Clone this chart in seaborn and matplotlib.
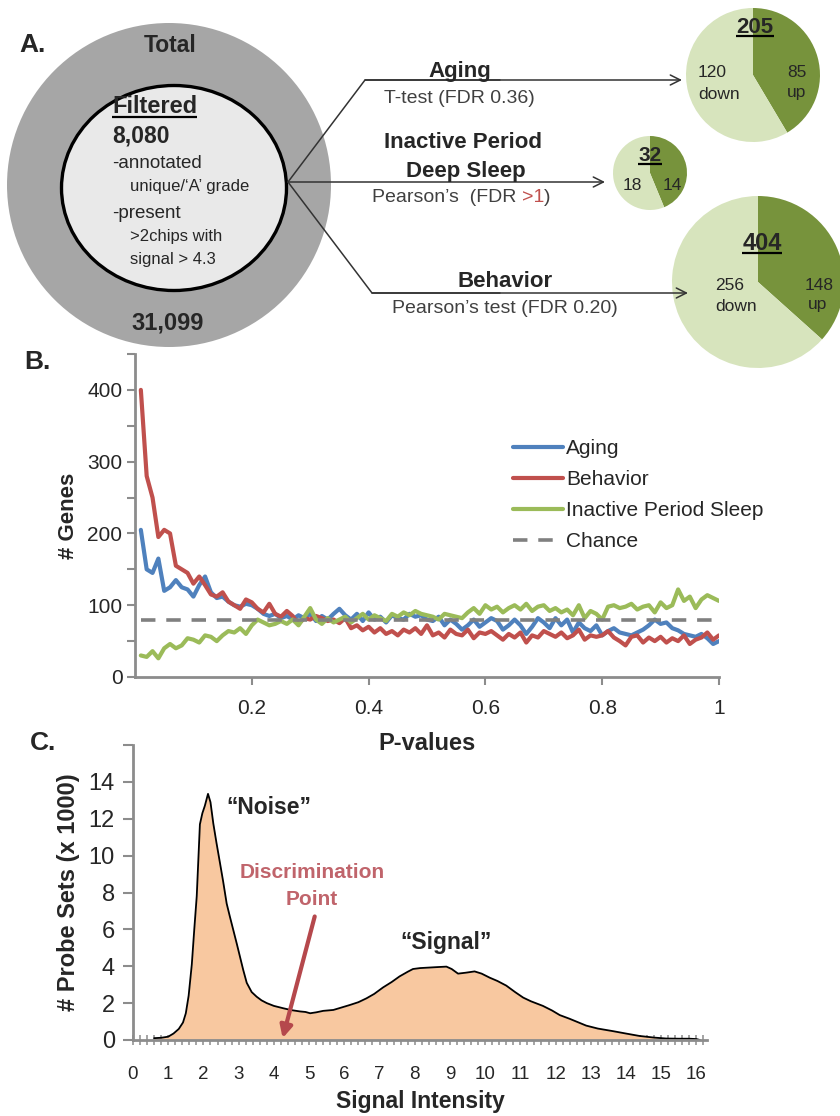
import numpy as np
import pandas as pd
import matplotlib
matplotlib.use("Agg")
import matplotlib.pyplot as plt
from matplotlib.patches import Circle, Ellipse
from matplotlib.lines import Line2D
from matplotlib.ticker import MultipleLocator, FixedLocator
import seaborn as sns

sns.set_style("white")
plt.rcParams["font.family"] = ["Liberation Sans", "DejaVu Sans"]

W, H = 840, 1116

# ---------------- panel A values
pie_totals = ["205", "32", "404"]
pie_down = [120, 18, 256]
pie_up = [85, 14, 148]
light_green, dark_green = "#D7E4BD", "#77933C"

# ---------------- panel B values (gene counts per p-value bin)
p_values = np.round(np.arange(1, 101) / 100, 2)
aging = [205, 150, 145, 165, 120, 125, 135, 125, 122, 112,
         128, 140, 118, 110, 112, 105, 100, 98, 102, 100,
         95, 88, 85, 88, 82, 85, 80, 86, 82, 88,
         78, 85, 80, 88, 95, 86, 80, 88, 78, 90,
         80, 84, 76, 86, 82, 80, 88, 84, 86, 80,
         78, 84, 72, 80, 74, 66, 72, 80, 70, 76,
         82, 78, 66, 72, 80, 72, 60, 70, 82, 76,
         68, 82, 72, 80, 62, 76, 68, 64, 72, 58,
         64, 68, 62, 60, 58, 62, 66, 72, 80, 74,
         76, 68, 65, 60, 58, 56, 60, 54, 46, 50]
behavior = [400, 280, 250, 195, 205, 200, 155, 150, 145, 130,
            140, 128, 115, 112, 118, 105, 100, 95, 108, 104,
            95, 90, 102, 88, 84, 92, 85, 74, 82, 80,
            85, 82, 78, 80, 75, 82, 68, 72, 65, 70,
            62, 68, 60, 64, 58, 66, 62, 68, 60, 72,
            58, 62, 55, 66, 60, 58, 66, 54, 62, 60,
            64, 58, 52, 60, 55, 62, 48, 58, 55, 64,
            60, 56, 62, 54, 58, 66, 52, 58, 56, 58,
            64, 55, 50, 44, 56, 58, 48, 55, 50, 56,
            48, 54, 50, 58, 46, 52, 55, 62, 52, 58]
inactive_sleep = [30, 28, 36, 26, 40, 46, 40, 44, 54, 52,
                  48, 58, 56, 50, 58, 64, 62, 68, 60, 72,
                  80, 76, 72, 74, 78, 74, 80, 72, 84, 96,
                  80, 74, 82, 76, 80, 84, 76, 82, 88, 80,
                  86, 82, 78, 88, 84, 90, 86, 92, 88, 86,
                  84, 80, 88, 86, 84, 82, 90, 96, 88, 100,
                  94, 98, 90, 96, 100, 94, 102, 92, 98, 100,
                  92, 96, 90, 94, 86, 100, 82, 92, 88, 80,
                  98, 100, 96, 98, 102, 94, 98, 100, 90, 104,
                  96, 100, 122, 106, 112, 96, 108, 114, 110, 106]
chance = [80] * 100
series_names = ["Aging", "Behavior", "Inactive Period Sleep"]
series_colors = ["#4F81BD", "#C0504D", "#9BBB59"]

# ---------------- panel C values (probe-set histogram, x1000)
sig_x = [0.6, 0.8, 1.0, 1.15, 1.3, 1.42, 1.5, 1.58, 1.67, 1.74,
         1.81, 1.9, 1.97, 2.04, 2.13, 2.2, 2.28, 2.37, 2.47, 2.56,
         2.66, 2.75, 2.85, 2.95, 3.04, 3.13, 3.23, 3.37, 3.51, 3.65,
         3.8, 4.0, 4.27, 4.5, 4.74, 4.9, 5.03, 5.2, 5.4, 5.69,
         5.9, 6.16, 6.4, 6.63, 6.85, 7.1, 7.35, 7.57, 7.8, 7.95,
         8.15, 8.33, 8.6, 8.9, 9.05, 9.23, 9.45, 9.7, 9.9, 10.13,
         10.35, 10.6, 10.85, 11.08, 11.3, 11.64, 11.9, 12.12, 12.4, 12.87,
         13.2, 13.63, 14.0, 14.38, 14.8, 15.14, 15.5, 15.8, 16.0, 16.1]
sig_y = [0.1, 0.12, 0.18, 0.35, 0.6, 0.95, 1.45, 2.4, 4.1, 6.0,
         7.8, 11.7, 12.3, 12.7, 13.35, 12.9, 11.75, 10.7, 9.6, 8.6,
         7.4, 6.7, 5.95, 5.2, 4.5, 3.8, 3.1, 2.6, 2.35, 2.15,
         2.0, 1.85, 1.72, 1.62, 1.55, 1.52, 1.45, 1.5, 1.58, 1.63,
         1.75, 1.9, 2.05, 2.26, 2.5, 2.85, 3.15, 3.45, 3.7, 3.85,
         3.9, 3.92, 3.95, 3.98, 3.85, 3.6, 3.65, 3.72, 3.6, 3.38,
         3.2, 2.95, 2.6, 2.3, 2.1, 1.85, 1.6, 1.35, 1.15, 0.78,
         0.62, 0.48, 0.35, 0.22, 0.13, 0.08, 0.07, 0.07, 0.05, 0.0]
discrimination_point = 4.25

TXT = "#262626"
AX_GRAY = "#8C8C8C"

fig = plt.figure(figsize=(W / 100, H / 100), dpi=100)
renderer = fig.canvas.get_renderer()

# =============== panel A (pixel-like coordinates, y flipped) ===============
AH = 370
axA = fig.add_axes([0, 1 - AH / H, 1, AH / H], zorder=3)
axA.set_axis_off()


def fix_limits():
    axA.set_xlim(0, W)
    axA.set_ylim(0, AH)
    axA.set_aspect("equal")


fix_limits()


def Y(py):
    return AH - py


def underline(t, py, lw=1.6):
    bb = t.get_window_extent(renderer).transformed(axA.transData.inverted())
    axA.plot([bb.x0, bb.x1], [Y(py), Y(py)], color="black", lw=lw, solid_capstyle="butt")


# pies first (pie resets the limits)
pie_centers = [(753, Y(75)), (650, Y(173)), (758, Y(282))]
pie_radius = [67, 37, 86]
for i in range(3):
    axA.pie([pie_up[i], pie_down[i]], colors=[dark_green, light_green], startangle=90,
            counterclock=False, center=pie_centers[i], radius=pie_radius[i],
            wedgeprops=dict(linewidth=0))
fix_limits()

axA.add_patch(Circle((169, Y(185)), 162, color="#A6A6A6", lw=0))
axA.add_patch(Ellipse((174, Y(188)), 225, 205, fc="#E9E9E9", ec="black", lw=2.4))

axA.text(170, Y(52), "Total", ha="center", va="baseline", fontsize=16.5, weight="bold", color=TXT)
t = axA.text(112, Y(113), "Filtered", ha="left", va="baseline", fontsize=17, weight="bold", color=TXT)
underline(t, 117)
axA.text(112, Y(142), "8,080", ha="left", va="baseline", fontsize=16.5, weight="bold", color=TXT)
axA.text(112, Y(168), "-annotated", ha="left", va="baseline", fontsize=13.5, color=TXT)
axA.text(130, Y(191), "unique/\u2018A\u2019 grade", ha="left", va="baseline", fontsize=12, color=TXT)
axA.text(112, Y(218), "-present", ha="left", va="baseline", fontsize=13.5, color=TXT)
axA.text(130, Y(241), ">2chips with", ha="left", va="baseline", fontsize=12, color=TXT)
axA.text(130, Y(264), "signal > 4.3", ha="left", va="baseline", fontsize=12, color=TXT)
axA.text(168, Y(329), "31,099", ha="center", va="baseline", fontsize=17, weight="bold", color=TXT)

# branches
apex = (288, Y(182))
arrow_kw = dict(arrowstyle="->", color="#333333", lw=1.1, mutation_scale=18, shrinkA=0, shrinkB=0)
axA.plot([apex[0], 365, 500], [apex[1], Y(80), Y(80)], color="#333333", lw=1.1)
axA.annotate("", xy=(682, Y(80)), xytext=(365, Y(80)), arrowprops=arrow_kw)
axA.annotate("", xy=(605, Y(182)), xytext=apex, arrowprops=arrow_kw)
axA.plot([apex[0], 372, 500], [apex[1], Y(293), Y(293)], color="#333333", lw=1.1)
axA.annotate("", xy=(688, Y(293)), xytext=(372, Y(293)), arrowprops=arrow_kw)

axA.text(460, Y(77), "Aging", ha="center", va="baseline", fontsize=16, weight="bold", color=TXT)
axA.text(459, Y(103), "T-test (FDR 0.36)", ha="center", va="baseline", fontsize=14, color="#404040")
axA.text(463, Y(148), "Inactive Period", ha="center", va="baseline", fontsize=16, weight="bold", color=TXT)
axA.text(466, Y(177), "Deep Sleep", ha="center", va="baseline", fontsize=16, weight="bold", color=TXT)
t1 = axA.text(372, Y(202), "Pearson\u2019s  (FDR ", ha="left", va="baseline", fontsize=14, color="#404040")
x1 = t1.get_window_extent(renderer).transformed(axA.transData.inverted()).x1
t2 = axA.text(x1, Y(202), ">1", ha="left", va="baseline", fontsize=14, color="#C0504D")
x2 = t2.get_window_extent(renderer).transformed(axA.transData.inverted()).x1
axA.text(x2, Y(202), ")", ha="left", va="baseline", fontsize=14, color="#404040")
axA.text(505, Y(287), "Behavior", ha="center", va="baseline", fontsize=16, weight="bold", color=TXT)
axA.text(505, Y(313), "Pearson\u2019s test (FDR 0.20)", ha="center", va="baseline", fontsize=14, color="#404040")

t = axA.text(755, Y(33), pie_totals[0], ha="center", va="baseline", fontsize=16, weight="bold", color=TXT)
underline(t, 36)
axA.text(698, Y(77), str(pie_down[0]), ha="left", va="baseline", fontsize=12.5, color=TXT)
axA.text(698, Y(99), "down", ha="left", va="baseline", fontsize=12.5, color=TXT)
axA.text(797, Y(77), str(pie_up[0]), ha="center", va="baseline", fontsize=12.5, color=TXT)
axA.text(797, Y(97), "up", ha="center", va="baseline", fontsize=12.5, color=TXT)

t = axA.text(650, Y(161), pie_totals[1], ha="center", va="baseline", fontsize=15, weight="bold", color=TXT)
underline(t, 164)
axA.text(632, Y(190), str(pie_down[1]), ha="center", va="baseline", fontsize=12.5, color=TXT)
axA.text(672, Y(190), str(pie_up[1]), ha="center", va="baseline", fontsize=12.5, color=TXT)

t = axA.text(762, Y(250), pie_totals[2], ha="center", va="baseline", fontsize=17, weight="bold", color=TXT)
underline(t, 253)
axA.text(715, Y(290), str(pie_down[2]), ha="left", va="baseline", fontsize=12.5, color=TXT)
axA.text(715, Y(311), "down", ha="left", va="baseline", fontsize=12.5, color=TXT)
axA.text(819, Y(290), str(pie_up[2]), ha="center", va="baseline", fontsize=12.5, color=TXT)
axA.text(818, Y(309), "up", ha="center", va="baseline", fontsize=12.5, color=TXT)
fix_limits()

# =============== panel B ===============
axB = fig.add_axes([135 / W, 1 - 677 / H, (719 - 135) / W, (677 - 354) / H])
axB.patch.set_alpha(0)
df_b = pd.DataFrame({
    "p": np.tile(p_values, 3),
    "genes": aging + behavior + inactive_sleep,
    "series": np.repeat(series_names, 100),
})
sns.lineplot(data=df_b, x="p", y="genes", hue="series", hue_order=series_names,
             palette=series_colors, linewidth=3, ax=axB, legend=False)
sns.lineplot(x=p_values, y=chance, color="#808080", linewidth=2.6,
             linestyle=(0, (4, 3)), ax=axB)
axB.set_xlim(0, 1)
axB.set_ylim(0, 450)
axB.set_xticks([0.2, 0.4, 0.6, 0.8, 1.0])
axB.set_xticklabels(["0.2", "0.4", "0.6", "0.8", "1"])
axB.yaxis.set_major_locator(FixedLocator([0, 100, 200, 300, 400]))
axB.yaxis.set_minor_locator(FixedLocator([50, 150, 250, 350, 450]))
axB.set_xlabel("P-values", fontsize=17, weight="bold", color=TXT, labelpad=10)
axB.set_ylabel("# Genes", fontsize=16, weight="bold", color=TXT, labelpad=6)
axB.tick_params(axis="x", which="major", bottom=True, direction="out", length=6, width=1.5,
                color=AX_GRAY, labelsize=15, labelcolor=TXT, pad=10)
axB.tick_params(axis="y", which="both", left=True, direction="out", length=6, width=1.5,
                color=AX_GRAY, labelsize=15, labelcolor=TXT, pad=3)
for s in ["top", "right"]:
    axB.spines[s].set_visible(False)
for s in ["left", "bottom"]:
    axB.spines[s].set_color(AX_GRAY)
    axB.spines[s].set_linewidth(2)

handles = [Line2D([], [], color=c, lw=3) for c in series_colors]
handles.append(Line2D([], [], color="#808080", lw=2.6, linestyle=(0, (4, 3))))
axB.legend(handles, series_names + ["Chance"], loc="upper left",
           bbox_to_anchor=(513 / W, 1 - 439 / H), bbox_transform=fig.transFigure,
           frameon=False, fontsize=15, handlelength=2.4, handletextpad=0.15,
           labelspacing=0.58, borderpad=0, borderaxespad=0)

# =============== panel C ===============
axC = fig.add_axes([133 / W, 1 - 1040 / H, (707 - 133) / W, (1040 - 745) / H])
axC.patch.set_alpha(0)
axC.fill_between(sig_x, sig_y, 0, color="#F8C8A0", lw=0)
sns.lineplot(x=sig_x, y=sig_y, color="black", linewidth=1.3, ax=axC, sort=False)
axC.set_xlim(0, 16.3)
axC.set_ylim(0, 16)
axC.xaxis.set_major_locator(MultipleLocator(1))
axC.xaxis.set_minor_locator(MultipleLocator(0.2))
axC.set_yticks(range(0, 17, 2))
axC.set_yticklabels([str(v) for v in range(0, 15, 2)] + [""])
axC.set_xlabel("Signal Intensity", fontsize=16.5, weight="bold", color=TXT, labelpad=5)
axC.set_ylabel("# Probe Sets (x 1000)", fontsize=17, weight="bold", color=TXT, labelpad=6)
axC.tick_params(axis="x", which="both", bottom=True, direction="inout", length=7, width=1.1,
                color=AX_GRAY, labelsize=13.5, labelcolor=TXT, pad=15)
axC.tick_params(axis="y", left=True, direction="out", length=7, width=1.5,
                color=AX_GRAY, labelsize=17, labelcolor=TXT, pad=6)
for s in ["top", "right"]:
    axC.spines[s].set_visible(False)
for s in ["left", "bottom"]:
    axC.spines[s].set_color(AX_GRAY)
    axC.spines[s].set_linewidth(2)

axC.text(3.85, 12.6, "\u201cNoise\u201d", ha="center", va="center", fontsize=16.5, weight="bold", color=TXT)
axC.text(8.9, 5.3, "\u201cSignal\u201d", ha="center", va="center", fontsize=16.5, weight="bold", color=TXT)
axC.text(5.1, 9.1, "Discrimination", ha="center", va="center", fontsize=15, weight="bold", color="#C0646B")
axC.text(5.08, 7.6, "Point", ha="center", va="center", fontsize=15, weight="bold", color="#C0646B")
axC.annotate("", xy=(discrimination_point, 0.1), xytext=(5.16, 6.7),
             arrowprops=dict(arrowstyle="-|>", color="#B5484C", lw=3, mutation_scale=18,
                             shrinkA=0, shrinkB=0))

# panel letters
fig.text(33 / W, 1 - 45 / H, "A.", fontsize=19, weight="bold", ha="center", va="center", color=TXT)
fig.text(37 / W, 1 - 362 / H, "B.", fontsize=19, weight="bold", ha="center", va="center", color=TXT)
fig.text(43 / W, 1 - 743 / H, "C.", fontsize=19, weight="bold", ha="center", va="center", color=TXT)

fig.savefig("out.png", dpi=100, facecolor="white")
